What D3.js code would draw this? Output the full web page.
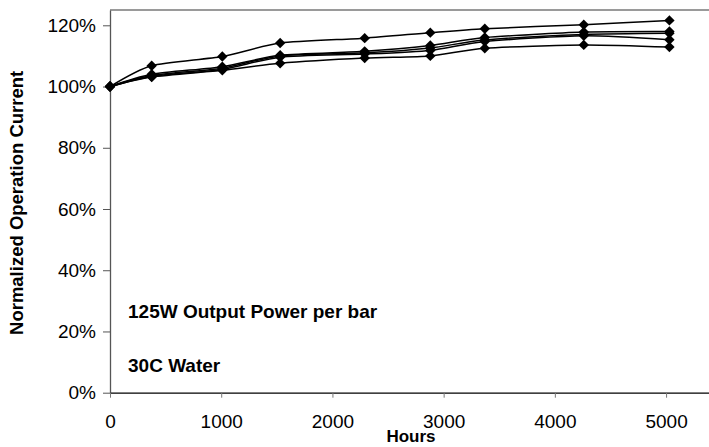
<!DOCTYPE html>
<html>
<head>
<meta charset="utf-8">
<script src="https://cdn.jsdelivr.net/npm/d3@7"></script>
<style>
  html, body { margin: 0; padding: 0; background: #fff; }
  svg { display: block; font-family: "Liberation Sans", Arial, sans-serif; }
</style>
</head>
<body>
<svg id="chart" width="709" height="447"></svg>
<script>
// Hours at which each bar was measured
const hours = [0, 375, 1010, 1530, 2290, 2880, 3370, 4260, 5030];

// Normalized operation current (% of initial) for five bars
const bar1 = [100, 106.8, 109.8, 114.2, 115.8, 117.6, 118.9, 120.2, 121.6];
const bar2 = [100, 104.0, 106.5, 110.2, 111.5, 113.4, 116.0, 117.8, 118.0];
const bar3 = [100, 103.6, 106.0, 110.0, 111.0, 112.6, 115.2, 117.0, 117.4];
const bar4 = [100, 103.3, 105.6, 109.6, 110.6, 111.8, 114.7, 116.6, 115.3];
const bar5 = [100, 103.1, 105.3, 107.6, 109.3, 110.0, 112.5, 113.6, 112.9];
const seriesList = [bar1, bar2, bar3, bar4, bar5];

const xTicks = [0, 1000, 2000, 3000, 4000, 5000];
const yTicks = [0, 20, 40, 60, 80, 100, 120];

const notes = ["125W Output Power per bar", "30C Water"];

const svg = d3.select("#chart");
const plot = { left: 110, right: 710, top: 10, bottom: 392.7 };
const fontFamily = "Liberation Sans, Arial, sans-serif";

const x = d3.scaleLinear().domain([0, 5395]).range([plot.left, plot.right]);
const y = d3.scaleLinear().domain([0, 125]).range([plot.bottom, plot.top]);

// top border of the plot area
svg.append("line")
  .attr("x1", plot.left).attr("x2", 709)
  .attr("y1", plot.top).attr("y2", plot.top)
  .attr("stroke", "#9a9a9a").attr("stroke-width", 2);

// y axis
const yAxis = svg.append("g")
  .attr("transform", `translate(${plot.left},0)`)
  .call(d3.axisLeft(y).tickValues(yTicks).tickSize(7).tickSizeOuter(0)
        .tickFormat(d => d + "%"));
yAxis.select(".domain").attr("stroke", "#555").attr("stroke-width", 1.3);
yAxis.selectAll(".tick line").attr("stroke", "#555");
yAxis.selectAll(".tick text")
  .attr("font-size", 19).attr("fill", "#000").attr("x", -14)
  .attr("font-family", fontFamily);

// x axis
const xAxis = svg.append("g")
  .attr("transform", `translate(0,${plot.bottom})`)
  .call(d3.axisBottom(x).tickValues(xTicks).tickSize(5).tickSizeOuter(0)
        .tickFormat(d3.format("d")));
xAxis.select(".domain").attr("stroke", "#000").attr("stroke-width", 1.3);
xAxis.selectAll(".tick line").attr("stroke", "#777");
xAxis.selectAll(".tick text")
  .attr("font-size", 19).attr("fill", "#000").attr("y", 22)
  .attr("font-family", fontFamily);

// axis titles
svg.append("text")
  .attr("x", 411).attr("y", 442)
  .attr("text-anchor", "middle")
  .attr("font-size", 17).attr("font-weight", "bold")
  .text("Hours");

svg.append("text")
  .attr("transform", `translate(23,${y(62)}) rotate(-90)`)
  .attr("text-anchor", "middle")
  .attr("font-size", 18.5).attr("font-weight", "bold")
  .text("Normalized Operation Current");

// series lines
const line = d3.line()
  .x((d, i) => x(hours[i]))
  .y(d => y(d))
  .curve(d3.curveCardinal.tension(0.3));

const seriesG = svg.append("g");
seriesList.forEach(vals => {
  seriesG.append("path")
    .datum(vals)
    .attr("d", line)
    .attr("fill", "none")
    .attr("stroke", "#000")
    .attr("stroke-width", 1.5);
});

// diamond markers
const r = 5.2;
const diamond = `M0,${-r}L${r},0L0,${r}L${-r},0Z`;
seriesList.forEach(vals => {
  seriesG.selectAll(null)
    .data(vals)
    .enter().append("path")
    .attr("d", diamond)
    .attr("transform", (d, i) => `translate(${x(hours[i])},${y(d)})`)
    .attr("fill", "#000");
});

// annotation text
svg.selectAll(".note")
  .data(notes)
  .enter().append("text")
  .attr("class", "note")
  .attr("x", 128)
  .attr("y", (d, i) => [318, 372][i])
  .attr("font-size", 19).attr("font-weight", "bold")
  .text(d => d);
</script>
</body>
</html>
